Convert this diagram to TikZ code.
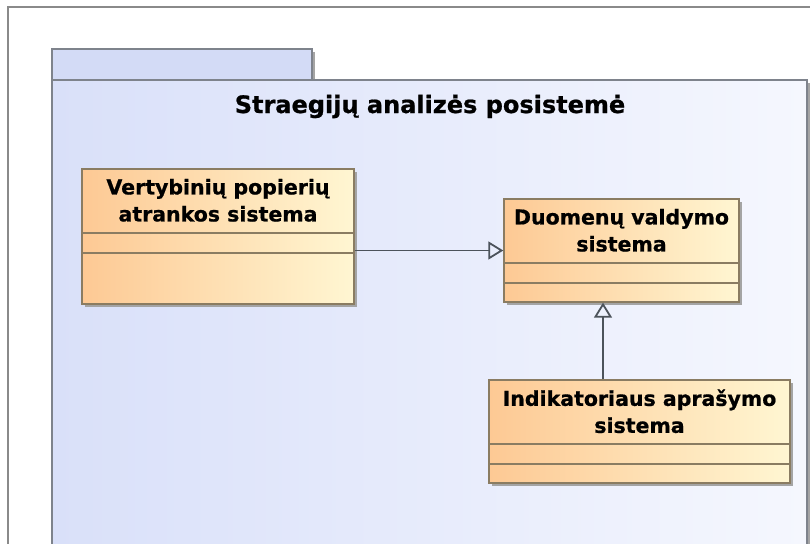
\documentclass[tikz,border=0pt]{standalone}
\usepackage{fontspec}
\setmainfont{DejaVu Sans}
\newfontfamily\heavyfont{DejaVu Sans Bold}[FakeBold=0.8]
\usetikzlibrary{arrows.meta,shadows,calc}

\definecolor{frameGray}{HTML}{8A8A8A}
\definecolor{pkgEdge}{HTML}{7E838C}
\definecolor{pkgTab}{HTML}{D3DBF6}
\definecolor{pkgL}{HTML}{D9E0F9}
\definecolor{pkgR}{HTML}{F5F7FE}
\definecolor{clsL}{HTML}{FDC994}
\definecolor{clsR}{HTML}{FFF6D2}
\definecolor{clsEdge}{HTML}{8A7C62}
\definecolor{shadowGray}{HTML}{A4A4A4}
\definecolor{linkGray}{HTML}{4C535B}

\begin{document}
\begin{tikzpicture}[x=1pt,y=-1pt,
  outerframe/.style={draw=frameGray, line width=1.5pt},
  pkgshadow/.style={drop shadow={shadow xshift=3pt, shadow yshift=-3pt, fill=shadowGray, opacity=1}},
  pkgtab/.style={draw=pkgEdge, line width=1.3pt, fill=pkgTab, pkgshadow},
  pkgbody/.style={draw=pkgEdge, line width=1.3pt, left color=pkgL, right color=pkgR, pkgshadow},
  umlclass/.style={rectangle, inner sep=0pt, draw=clsEdge, line width=1.4pt,
    left color=clsL, right color=clsR,
    drop shadow={shadow xshift=3pt, shadow yshift=-3pt, fill=shadowGray, opacity=1},
    path picture={
      \draw[clsEdge, line width=1.2pt]
        ([yshift=-64pt]path picture bounding box.north west) -- ([yshift=-64pt]path picture bounding box.north east)
        ([yshift=-84pt]path picture bounding box.north west) -- ([yshift=-84pt]path picture bounding box.north east);
    }},
  clsname/.style={align=center, inner sep=0pt, font=\fontsize{20.5}{27}\selectfont\heavyfont},
  pkgtitle/.style={inner sep=0pt, anchor=base, font=\fontsize{24}{28}\selectfont\heavyfont},
  generalization/.style={draw=linkGray, line width=1.8pt,
    -{Triangle[open, length=15pt, width=18pt]}}
]
\useasboundingbox (0,0) rectangle (810,543);
\clip (0,0) rectangle (810,543);

% white page and outer diagram frame
\fill[white] (0,0) rectangle (810,543);
\draw[outerframe] (8,7) rectangle (840,580);

% package with its tab
\path[pkgtab] (52,49) rectangle (312,80);
\path[pkgbody] (52,80) rectangle (807,620);
\node[pkgtitle] (title) at (430,113) {Straegijų analizės posistemė};

% classes
\node[umlclass, minimum width=272pt, minimum height=135pt] (v) at (218,236.5) {};
\node[umlclass, minimum width=235pt, minimum height=103pt] (d) at (621.5,250.5) {};
\node[umlclass, minimum width=301pt, minimum height=103pt] (i) at (639.5,431.5) {};

\node[clsname] (vname) at ([yshift=-32pt]v.north) {Vertybinių popierių\\atrankos sistema};
\node[clsname] (dname) at ([yshift=-32pt]d.north) {Duomenų valdymo\\sistema};
\node[clsname] (iname) at ([yshift=-32pt]i.north) {Indikatoriaus aprašymo\\sistema};

% generalizations
\draw[generalization] (v.east |- d.west) -- (d.west);
\coordinate (dlow) at ([xshift=-18.5pt]d.south);
\draw[generalization] (i.north -| dlow) -- (dlow);
\end{tikzpicture}
\end{document}
